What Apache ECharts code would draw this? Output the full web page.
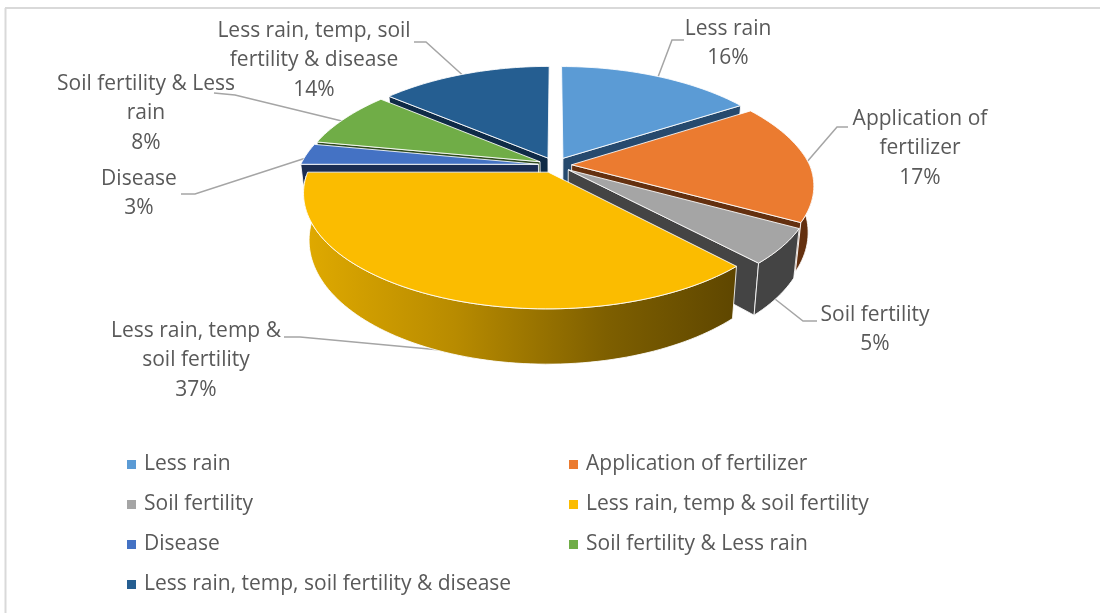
<!DOCTYPE html>
<html><head><meta charset="utf-8">
<style>html,body{margin:0;padding:0;background:#fff}#c{width:1100px;height:613px}</style>
<script src="https://cdn.jsdelivr.net/npm/echarts@6/dist/echarts.min.js"></script>
</head><body><div id="c"></div>
<script>
const categories = ["Less rain","Application of fertilizer","Soil fertility","Less rain, temp & soil fertility","Disease","Soil fertility & Less rain","Less rain, temp, soil fertility & disease"];
const shares = [16,17,5,37,3,8,14];
const wrappedNames = [["Less rain"],["Application of","fertilizer"],["Soil fertility"],["Less rain, temp &","soil fertility"],["Disease"],["Soil fertility & Less","rain"],["Less rain, temp, soil","fertility & disease"]];

const colors = ["#5B9BD5","#EB7B30","#A5A5A5","#FBBC00","#4472C4","#70AD47","#255E91"];
const cutColors = ["#264A6E","#64300F","#444444","#6A5000","#1B2D52","#2F4B1E","#0F2B47"];
const FONT = "'Open Sans', sans-serif";
const TEXT = "#595959";
const CX=555, CY=165, RX=238, RY=110, K=0.175, KX=0.21, H=45, EX=0.07;
const total = shares.reduce((a,b)=>a+b,0);

function project(deg, r, midDeg, z){
  const a=deg*Math.PI/180, m=midDeg*Math.PI/180;
  const u=Math.sin(a)*r+EX*Math.sin(m), v=-Math.cos(a)*r-EX*Math.cos(m);
  const w=1/(1-K*v), wx=v<0?1/(1-KX*v):w, s=1-0.022*z;
  return [CX+RX*u*wx*s, CY+RY*v*w+H*w*z];
}
function rimFill(i){
  if(i!==3) return cutColors[i];
  return new echarts.graphic.LinearGradient(0,0,1,0,[
    {offset:0,color:"#E0AA00"},{offset:0.35,color:"#B88B00"},{offset:0.7,color:"#7E5F00"},{offset:1,color:"#5E4600"}]);
}
function sliceRenderer(i){
  return function(params, api){
    const val=api.value(0);
    const before=shares.slice(0,i).reduce((a,b)=>a+b,0);
    const s=before/total*360, e=s+val/total*360, mid=(s+e)/2;
    const arc=(z,from,to)=>{const p=[];for(let d=from;d<to;d+=1.5)p.push(project(d,1,mid,z));p.push(project(to,1,mid,z));return p;};
    const arcTop=arc(0,s,e);
    const apex=project(0,0,mid,0), apexB=project(0,0,mid,1);
    const edge={stroke:"rgba(255,255,255,0.85)",lineWidth:1};
    const poly=(pts,fill)=>({type:"polygon",shape:{points:pts},style:Object.assign({fill:fill},edge)});
    const kids=[];
    if(s>180 && s<360) kids.push(poly([apex,project(s,1,mid,0),project(s,1,mid,1),apexB],cutColors[i]));
    if(e>0 && e<180) kids.push(poly([apex,project(e,1,mid,0),project(e,1,mid,1),apexB],cutColors[i]));
    const from=Math.max(s,85), to=Math.min(e,268);
    if(to>from){
      kids.push(poly(arc(0,from,to).concat(arc(1,from,to).reverse()),rimFill(i)));
    }
    kids.push(poly([apex].concat(arcTop),colors[i]));
    return {type:"group",children:kids};
  };
}
function depthRank(i){
  const mids=shares.map((v,j)=>{
    const b=shares.slice(0,j).reduce((a,c)=>a+c,0);
    return -Math.cos((b+v/2)/total*2*Math.PI);
  });
  const order=mids.slice().sort((a,b)=>a-b);
  return order.indexOf(mids[i]);
}
const series=categories.map((name,i)=>({
  type:"custom",name:name,coordinateSystem:"none",z:2+depthRank(i),
  itemStyle:{color:colors[i]},silent:true,
  data:[[shares[i]]],renderItem:sliceRenderer(i)
}));

const labelAnchors=[[728,29],[920,119],[875,315],[196,331],[139,179],[146,84],[314,31]];
const leaderPaths=[
 [[684,40],[672,40],[658,77]],
 [[848,127],[837,127],[806,163]],
 [[817,321],[803,321],[775,299]],
 [[284,337],[300,337],[440,350]],
 [[181,194],[195,194],[312,156]],
 [[214,93],[235,95],[350,123]],
 [[414,42],[426,42],[468,80]]
];
const graphics=[
 {type:"line",shape:{x1:5.5,y1:8,x2:5.5,y2:613},style:{stroke:"#D9D9D9",lineWidth:2},z:0},
 {type:"line",shape:{x1:5,y1:8,x2:1100,y2:8},style:{stroke:"#D9D9D9",lineWidth:2},z:0}
];
leaderPaths.forEach(p=>graphics.push({type:"polyline",shape:{points:p},style:{stroke:"#A5A5A5",lineWidth:1.5,fill:null},z:1}));
categories.forEach((n,i)=>{
  const lines=wrappedNames[i].concat([shares[i]+"%"]);
  lines.forEach((t,j)=>graphics.push({type:"text",z:30,style:{
    x:labelAnchors[i][0],y:labelAnchors[i][1]+j*29.5,text:t,align:"center",verticalAlign:"middle",
    fill:TEXT,font:"21px "+FONT}}));
});
const legendBase={orient:"vertical",icon:"rect",itemWidth:9,itemHeight:9,itemGap:19,selectedMode:false,
  textStyle:{color:TEXT,fontSize:21,fontFamily:FONT,lineHeight:20,padding:[0,0,0,3]}};
const option={
  animation:false,backgroundColor:"#fff",
  legend:[
    Object.assign({},legendBase,{left:122,top:449,data:[categories[0],categories[2],categories[4],categories[6]]}),
    Object.assign({},legendBase,{left:564,top:449,data:[categories[1],categories[3],categories[5]]})
  ],
  graphic:graphics,series:series
};
echarts.init(document.getElementById("c"),null,{renderer:"canvas"}).setOption(option);
</script></body></html>
